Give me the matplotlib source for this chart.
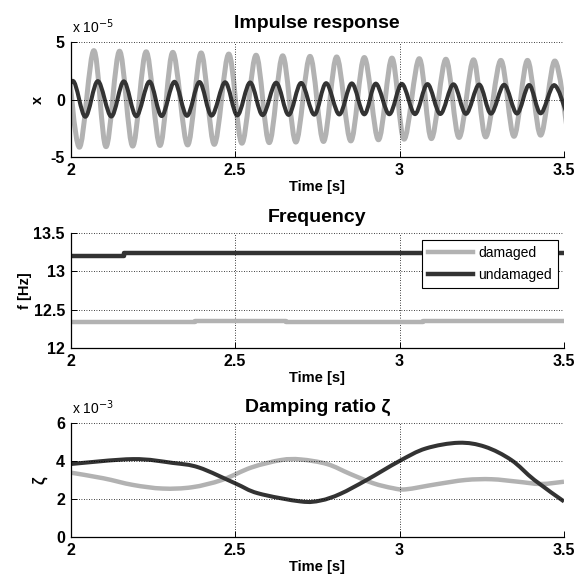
import numpy as np
import matplotlib
matplotlib.use("Agg")
import matplotlib.pyplot as plt
from matplotlib.path import Path
from matplotlib.patches import PathPatch

plt.rcParams['font.family'] = ['Liberation Sans', 'DejaVu Sans']

# ---------------- data ----------------
# Impulse response extrema (x in units of 1e-5)
dam_peak_t = [1.989, 2.071, 2.149, 2.230, 2.311, 2.397, 2.481, 2.564, 2.645, 2.728,
              2.809, 2.893, 2.977, 3.060, 3.141, 3.225, 3.308, 3.389, 3.472]
dam_peak_x = [4.30, 4.25, 4.20, 4.15, 4.10, 4.05, 3.95, 3.85, 3.80, 3.75,
              3.70, 3.65, 3.60, 3.55, 3.50, 3.45, 3.40, 3.40, 3.35]
dam_trough_t = [2.027, 2.108, 2.189, 2.272, 2.356, 2.437, 2.521, 2.604, 2.685, 2.769,
                2.852, 2.936, 3.014, 3.097, 3.181, 3.262, 3.348, 3.429, 3.512]
dam_trough_x = [-4.15, -4.10, -4.05, -4.00, -3.95, -3.90, -3.80, -3.75, -3.70, -3.65,
                -3.60, -3.50, -3.45, -3.40, -3.30, -3.25, -3.20, -3.10, -3.05]

und_peak_t = [2.007, 2.083, 2.162, 2.240, 2.316, 2.392, 2.470, 2.546, 2.625, 2.701,
              2.777, 2.855, 2.928, 3.007, 3.085, 3.164, 3.242, 3.318, 3.394, 3.470]
und_peak_x = [1.62, 1.60, 1.58, 1.56, 1.54, 1.52, 1.50, 1.48, 1.46, 1.44,
              1.42, 1.40, 1.38, 1.36, 1.34, 1.32, 1.30, 1.28, 1.26, 1.25]
und_trough_t = [1.970, 2.045, 2.124, 2.200, 2.277, 2.354, 2.429, 2.507, 2.584, 2.663,
                2.741, 2.817, 2.893, 2.969, 3.047, 3.124, 3.202, 3.278, 3.357, 3.429, 3.508]
und_trough_x = [-1.52, -1.50, -1.48, -1.46, -1.44, -1.42, -1.40, -1.38, -1.36, -1.34,
                -1.32, -1.30, -1.29, -1.28, -1.27, -1.26, -1.25, -1.23, -1.22, -1.20, -1.19]

# Frequency (Hz), piecewise constant
dam_f_edges = [2.0, 2.377, 2.654, 3.07, 3.5]
dam_f = [12.34, 12.355, 12.345, 12.355]
und_f_edges = [2.0, 2.164, 2.87, 3.5]
und_f = [13.20, 13.235, 13.245]

# Damping ratio (units of 1e-3)
dam_z_t = [2.00, 2.10, 2.19, 2.28, 2.37, 2.46, 2.55, 2.64, 2.70, 2.78,
           2.85, 2.92, 2.98, 3.02, 3.11, 3.20, 3.28, 3.36, 3.43, 3.50]
dam_z = [3.39, 3.09, 2.74, 2.55, 2.62, 3.00, 3.66, 4.05, 4.08, 3.84,
         3.32, 2.83, 2.57, 2.51, 2.77, 3.00, 3.04, 2.91, 2.79, 2.91]
und_z_t = [2.00, 2.19, 2.31, 2.39, 2.50, 2.57, 2.70, 2.76, 2.82, 2.90,
           3.00, 3.08, 3.18, 3.26, 3.34, 3.41, 3.50]
und_z = [3.84, 4.10, 3.90, 3.66, 2.83, 2.30, 1.87, 1.92, 2.27, 3.00,
         4.00, 4.66, 4.96, 4.75, 4.05, 3.00, 1.87]

x_ticks = [2, 2.5, 3, 3.5]
x_tick_labels = ['2', '2.5', '3', '3.5']

LIGHT = '#b2b2b2'
DARK = '#333333'


def smooth_path(ts, ys):
    """Catmull-Rom spline through the points as cubic Bezier path."""
    P = np.column_stack([ts, ys]).astype(float)
    n = len(P)
    verts = [P[0]]
    codes = [Path.MOVETO]
    for i in range(n - 1):
        p0 = P[i - 1] if i > 0 else P[i]
        p1 = P[i]
        p2 = P[i + 1]
        p3 = P[i + 2] if i + 2 < n else P[i + 1]
        c1 = p1 + (p2 - p0) / 6.0
        c2 = p2 - (p3 - p1) / 6.0
        verts += [c1, c2, p2]
        codes += [Path.CURVE4] * 3
    return Path(verts, codes)


def merge(t1, y1, t2, y2):
    t = np.array(t1 + t2)
    y = np.array(y1 + y2)
    o = np.argsort(t)
    return t[o], y[o]


def style(ax, yticks, ylabels):
    ax.set_xlim(2, 3.5)
    ax.set_xticks(x_ticks)
    ax.set_xticklabels(x_tick_labels)
    ax.set_yticks(yticks)
    ax.set_yticklabels(ylabels)
    for s in ['top', 'right']:
        ax.spines[s].set_visible(False)
    for s in ['left', 'bottom']:
        ax.spines[s].set_linewidth(0.9)
        ax.spines[s].set_color('black')
    ax.grid(True, linestyle=(0, (1, 2)), color='black', linewidth=0.6)
    ax.tick_params(direction='in', length=4, width=0.7, labelsize=11.5, pad=4)
    for lab in ax.get_xticklabels() + ax.get_yticklabels():
        lab.set_fontweight('bold')
    ax.set_xlabel('Time [s]', fontsize=10.5, fontweight='bold', labelpad=2)


fig = plt.figure(figsize=(5.81, 5.76), dpi=100)
W = 581.0
H = 576.0
L = 70.5 / W
AW = 493.5 / W
ax1 = fig.add_axes([L, 1 - 157 / H, AW, 115 / H])
ax2 = fig.add_axes([L, 1 - 348 / H, AW, 115 / H])
ax3 = fig.add_axes([L, 1 - 537 / H, AW, 114 / H])

# ---- impulse response ----
t, y = merge(dam_peak_t, dam_peak_x, dam_trough_t, dam_trough_x)
ax1.add_patch(PathPatch(smooth_path(t, y), fill=False, edgecolor=LIGHT, lw=3.6,
                        capstyle='butt', joinstyle='round'))
t, y = merge(und_peak_t, und_peak_x, und_trough_t, und_trough_x)
ax1.add_patch(PathPatch(smooth_path(t, y), fill=False, edgecolor=DARK, lw=2.9,
                        capstyle='butt', joinstyle='round'))
ax1.set_ylim(-5, 5)
style(ax1, [-5, 0, 5], ['-5', '0', '5'])
ax1.set_ylabel('x', fontsize=10.5, fontweight='bold', labelpad=4)
ax1.set_title('Impulse response', fontsize=14, fontweight='bold', pad=10)
ax1.text(0.003, 1.05, r'x 10$^{-5}$', transform=ax1.transAxes, fontsize=10,
         ha='left', va='bottom')

# ---- frequency ----
ax2.step(dam_f_edges, dam_f + [dam_f[-1]], where='post', color=LIGHT, lw=3.2,
         label='damaged')
ax2.step(und_f_edges, und_f + [und_f[-1]], where='post', color=DARK, lw=3.2,
         label='undamaged')
ax2.set_ylim(12, 13.5)
style(ax2, [12, 12.5, 13, 13.5], ['12', '12.5', '13', '13.5'])
ax2.set_ylabel('f [Hz]', fontsize=10.5, fontweight='bold', labelpad=1)
ax2.set_title('Frequency', fontsize=14, fontweight='bold', pad=8)
leg = ax2.legend(loc='upper right', bbox_to_anchor=(0.988, 0.94), fontsize=10,
                 frameon=True, fancybox=False, framealpha=1, edgecolor='black',
                 handlelength=3.2, handletextpad=0.4, labelspacing=0.55,
                 borderpad=0.45, borderaxespad=0.0)
leg.get_frame().set_linewidth(0.8)

# ---- damping ratio ----
ax3.add_patch(PathPatch(smooth_path(dam_z_t, dam_z), fill=False, edgecolor=LIGHT,
                        lw=3.2, capstyle='butt'))
ax3.add_patch(PathPatch(smooth_path(und_z_t, und_z), fill=False, edgecolor=DARK,
                        lw=2.9, capstyle='butt'))
ax3.set_ylim(0, 6)
style(ax3, [0, 2, 4, 6], ['0', '2', '4', '6'])
ax3.set_ylabel('ζ', fontsize=12, fontweight='bold', labelpad=6)
ax3.set_title('Damping ratio ζ', fontsize=14, fontweight='bold', pad=8)
ax3.text(0.003, 1.05, r'x 10$^{-3}$', transform=ax3.transAxes, fontsize=10,
         ha='left', va='bottom')

fig.savefig('out.png', dpi=100)
